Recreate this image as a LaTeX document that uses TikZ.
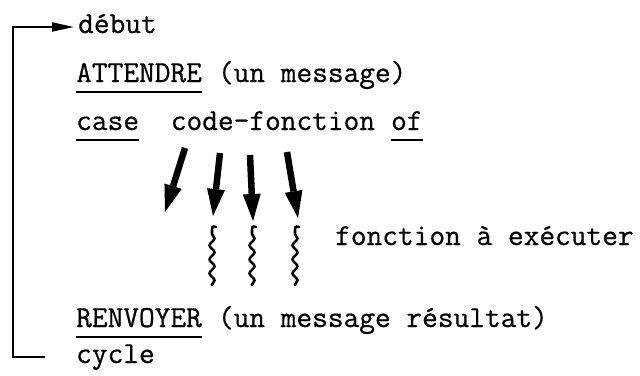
\documentclass[tikz,border=0pt]{standalone}
\usepackage{fontspec}
\newfontfamily\typewriter{Latin Modern Mono}[FakeBold=0.6]
\usetikzlibrary{arrows.meta,decorations.pathmorphing}
\begin{document}
\begin{tikzpicture}[x=1pt,y=-1pt,
  txt/.style={anchor=base west, inner sep=0pt, font=\typewriter\fontsize{30.5}{36}\selectfont},
  uline/.style={line width=2pt},
  bigarrow/.style={line width=6.5pt, -{Triangle[length=27pt,width=18pt,line width=0pt]}},
  wave/.style={line width=2.6pt, line cap=round},
  loopline/.style={line width=2pt}]
\useasboundingbox (0,0) rectangle (640,375);

% program lines
\node[txt] (debut) at (78,33) {début};
\node[txt] (attendre) at (76,82) {ATTENDRE};
\node[txt] (msg) at (attendre.base east) {~(un message)};
\node[txt] (casekw) at (76,130) {case};
\node[txt] (code) at (casekw.base east) {~~code-fonction~\mbox{}};
\node[txt] (of) at (code.base east) {of};
\node[txt] (fonc) at (335,245) {fonction à exécuter};
\node[txt] (renvoyer) at (76,327) {RENVOYER};
\node[txt] (res) at (renvoyer.base east) {~(un message résultat)};
\node[txt] (cycle) at (76,363) {cycle};

% keyword underlines
\foreach \k in {attendre,casekw,of,renvoyer}
  \draw[uline] ([yshift=-10pt]\k.base west) -- ([yshift=-10pt]\k.base east);

% loop back from cycle to début
\coordinate (looptop) at (13,27);
\coordinate (loopbot) at (13,357);
\draw[loopline, -{Triangle[length=22pt,width=9pt]}]
  ([xshift=-31pt]cycle.base west |- loopbot) -- (loopbot) -- (looptop)
  -- ([xshift=-4pt]debut.base west |- looptop);

% case branches
\coordinate (a1s) at (185,148); \coordinate (a1e) at (165,212);
\coordinate (a2s) at (220,153); \coordinate (a2e) at (213,216);
\coordinate (a3s) at (250,155); \coordinate (a3e) at (253,221);
\coordinate (a4s) at (287,152); \coordinate (a4e) at (298,218);
\foreach \i in {1,2,3,4}
  \draw[bigarrow] (a\i s) -- (a\i e);

% wavy lines: the function bodies
\foreach \x in {212,252,295}
  \draw[wave] (\x+4,227) .. controls (\x,226) .. (\x,234)
    decorate[decoration={snake,amplitude=2.5pt,segment length=14pt}] {-- (\x,285)};
\end{tikzpicture}
\end{document}
